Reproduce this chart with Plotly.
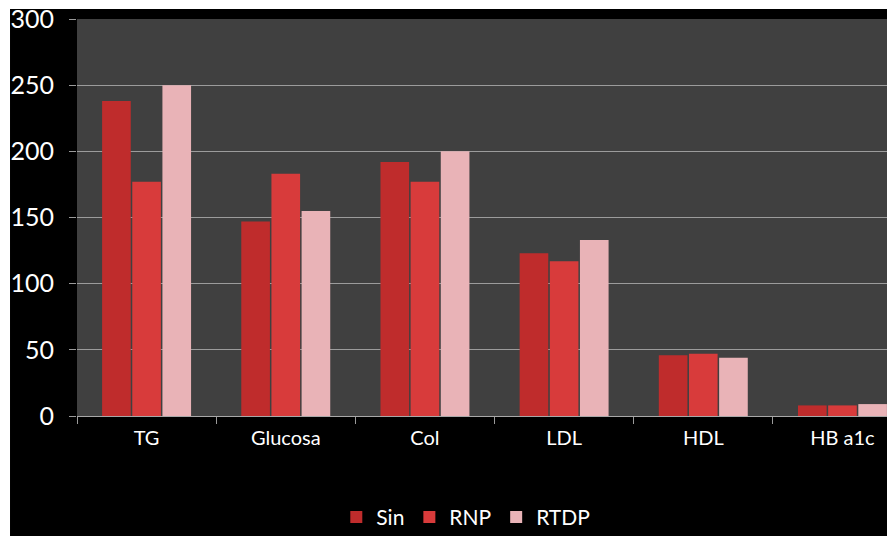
import plotly.graph_objects as go

categories = ["TG", "Glucosa", "Col", "LDL", "HDL", "HB a1c"]
sin_vals = [238, 147, 192, 123, 46, 8]
rnp_vals = [177, 183, 177, 117, 47, 8]
rtdp_vals = [250, 155, 200, 133, 44, 9]
y_ticks = [0, 50, 100, 150, 200, 250, 300]

series = [
    ("Sin", sin_vals, "#bf2c2c"),
    ("RNP", rnp_vals, "#d83b3b"),
    ("RTDP", rtdp_vals, "#e9b3b7"),
]

fig = go.Figure()
for name, vals, color in series:
    fig.add_trace(go.Bar(
        name=name, x=categories, y=vals,
        marker=dict(color=color, line=dict(width=0)),
    ))

font = "Lato, 'Open Sans', sans-serif"
fig.update_layout(
    width=887, height=536,
    margin=dict(l=77, r=0, t=19, b=120, autoexpand=False),
    paper_bgcolor="#000000",
    plot_bgcolor="#404040",
    barmode="group",
    bargap=0.35,
    bargroupgap=0.05,
    font=dict(family=font, color="#ffffff"),
    showlegend=True,
    legend=dict(
        orientation="h", x=0.48, xanchor="center", y=-0.255, yanchor="middle",
        font=dict(size=21, color="#ffffff"), bgcolor="rgba(0,0,0,0)",
        tracegroupgap=0,
    ),
    xaxis=dict(
        range=[-0.5, 5.32],
        showgrid=False,
        ticks="outside", tickson="boundaries", ticklen=7,
        tickcolor="#9a9a9a", tickwidth=1,
        showline=True, linecolor="#a8a8a8", linewidth=1,
        tickfont=dict(size=20, color="#ffffff"),
        ticklabelstandoff=4,
    ),
    yaxis=dict(
        range=[0, 300],
        tickvals=y_ticks,
        showgrid=True, gridcolor="#9c9c9c", gridwidth=1,
        zeroline=False,
        ticks="outside", ticklen=7, tickcolor="#9a9a9a",
        showline=False,
        tickfont=dict(size=25, color="#ffffff"),
        ticklabelstandoff=10,
    ),
    shapes=[
        dict(type="rect", xref="paper", yref="paper", x0=-0.2, x1=1.05,
             y0=1.0252, y1=1.1, fillcolor="#ffffff", line=dict(width=0), layer="above"),
        dict(type="rect", xref="paper", yref="paper", x0=-0.2, x1=-0.0827,
             y0=-0.4, y1=1.1, fillcolor="#ffffff", line=dict(width=0), layer="above"),
    ],
)

fig.write_html("out.html")
